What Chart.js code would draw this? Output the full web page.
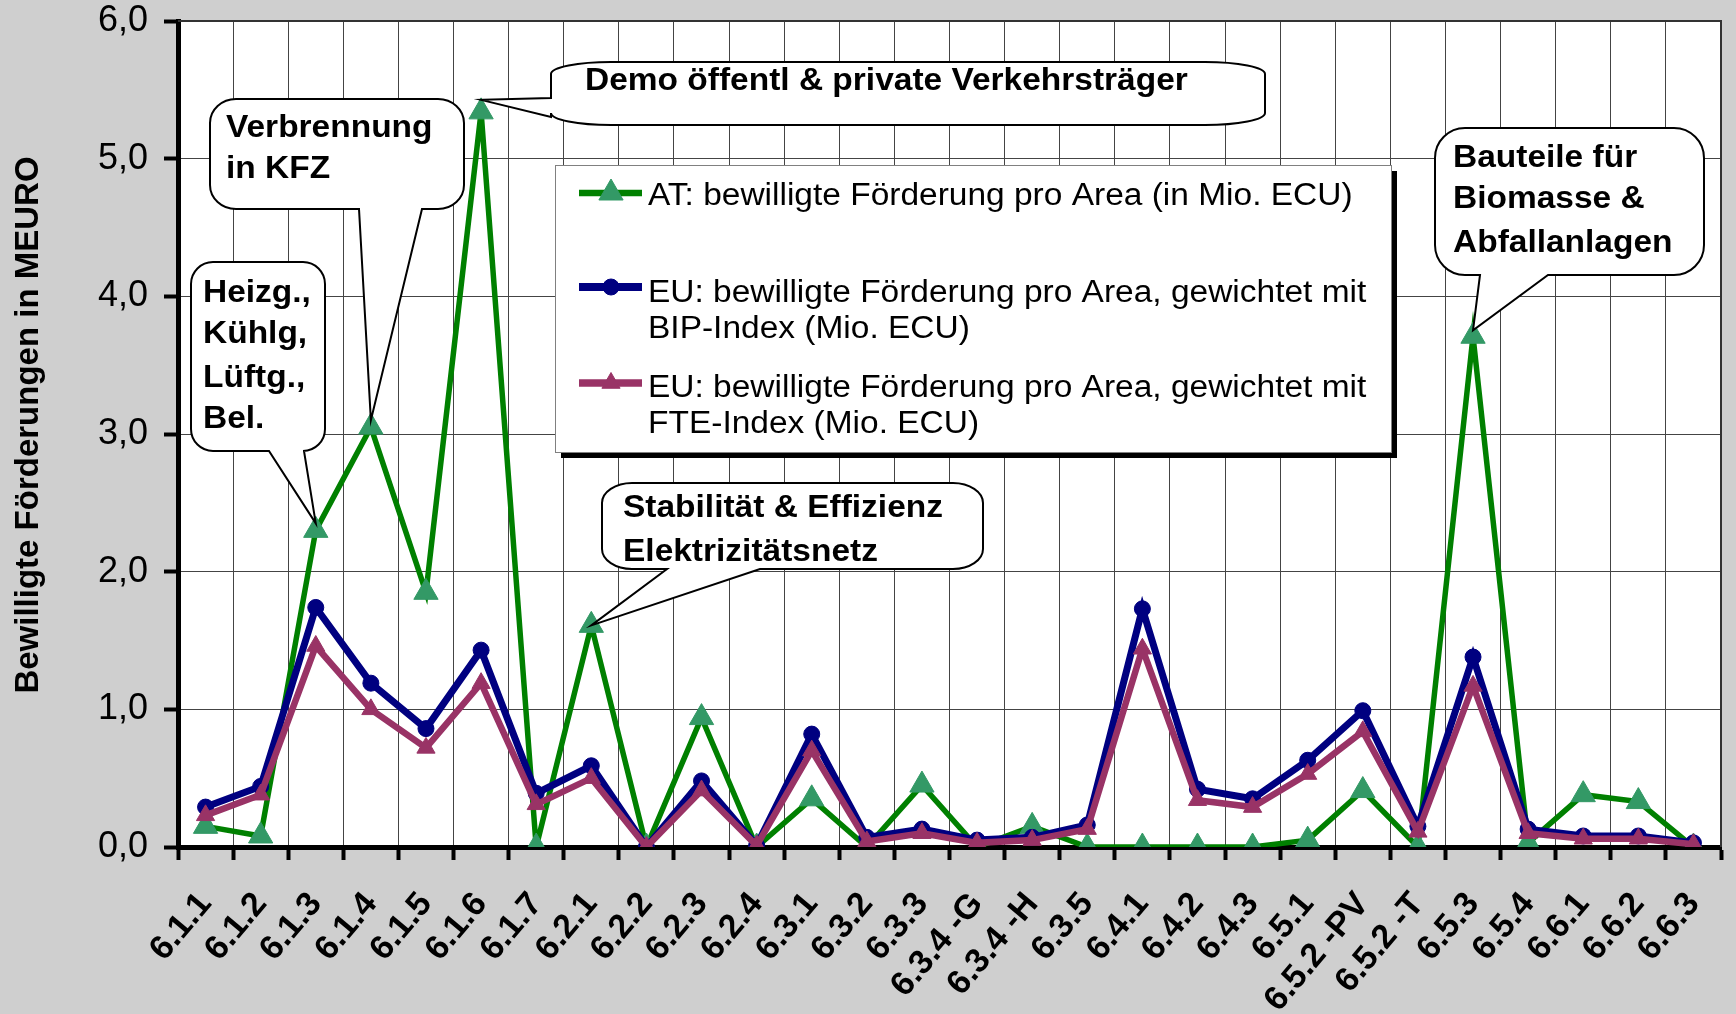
<!DOCTYPE html>
<html>
<head>
<meta charset="utf-8">
<script src="https://cdn.jsdelivr.net/npm/chart.js@4.4.1/dist/chart.umd.min.js"></script>
<style>
    html, body { margin: 0; padding: 0; background: #cfcfcf; }
    #wrap { width: 1736px; height: 1014px; }
</style>
</head>
<body>
<div id="wrap"><canvas id="chart"></canvas></div>
<script>
// Kategorien (Areas)
const categories = ['6.1.1', '6.1.2', '6.1.3', '6.1.4', '6.1.5', '6.1.6', '6.1.7',
    '6.2.1', '6.2.2', '6.2.3', '6.2.4', '6.3.1', '6.3.2', '6.3.3', '6.3.4 -G', '6.3.4 -H',
    '6.3.5', '6.4.1', '6.4.2', '6.4.3', '6.5.1', '6.5.2 -PV', '6.5.2 -T', '6.5.3', '6.5.4',
    '6.6.1', '6.6.2', '6.6.3'];

// Werte in Mio. ECU
const atValues = [0.15, 0.08, 2.30, 3.05, 1.85, 5.34, 0.00, 1.61, 0.00, 0.94, 0.00, 0.35,
    0.00, 0.45, 0.00, 0.15, 0.00, 0.00, 0.00, 0.00, 0.05, 0.41, 0.00, 3.71, 0.03, 0.38, 0.33, 0.00];
const bipValues = [0.29, 0.44, 1.74, 1.19, 0.86, 1.43, 0.39, 0.59, 0.00, 0.48, 0.01, 0.82,
    0.07, 0.13, 0.05, 0.07, 0.16, 1.73, 0.42, 0.35, 0.63, 0.99, 0.15, 1.38, 0.13, 0.08, 0.08, 0.03];
const fteValues = [0.23, 0.38, 1.46, 1.00, 0.72, 1.19, 0.31, 0.50, 0.00, 0.41, 0.01, 0.70,
    0.04, 0.10, 0.03, 0.05, 0.13, 1.44, 0.34, 0.29, 0.53, 0.84, 0.11, 1.17, 0.10, 0.06, 0.06, 0.02];

const yTicks = [0, 1, 2, 3, 4, 5, 6];
const yTitle = 'Bewilligte Förderungen in MEURO';

const legendLines = [
    ['AT: bewilligte Förderung pro Area (in Mio. ECU)'],
    ['EU: bewilligte Förderung pro Area, gewichtet mit', 'BIP-Index (Mio. ECU)'],
    ['EU: bewilligte Förderung pro Area, gewichtet mit', 'FTE-Index (Mio. ECU)']
];

// Sprechblasen: Text + Kategorie, auf die gezeigt wird
const calloutTexts = [
    ['Heizg.,', 'Kühlg,', 'Lüftg.,', 'Bel.'],
    ['Verbrennung', 'in KFZ'],
    ['Demo öffentl & private Verkehrsträger'],
    ['Stabilität & Effizienz', 'Elektrizitätsnetz'],
    ['Bauteile für', 'Biomasse &', 'Abfallanlagen']
];
const calloutTargets = ['6.1.3', '6.1.4', '6.1.6', '6.2.1', '6.5.3'];

// Layout der Sprechblasen (Pixel)
const calloutBoxes = [
    { x: 191, y: 262, w: 134, h: 189, rx: 22, ry: 22, side: 'bottom', base: [269, 304], dy: -7, tx: 203, lines: [302, 343, 387, 428] },
    { x: 210, y: 99, w: 254, h: 110, rx: 26, ry: 24, side: 'bottom', base: [359, 422], dy: -7, tx: 226, lines: [137, 178] },
    { x: 551, y: 62, w: 714, h: 63, rx: 60, ry: 12, side: 'left', base: [98, 117], dy: -12, tx: 585, lines: [90] },
    { x: 602, y: 483, w: 381, h: 86, rx: 30, ry: 20, side: 'bottom', base: [667, 760], dy: 0, tx: 623, lines: [517, 561] },
    { x: 1435, y: 128, w: 269, h: 147, rx: 30, ry: 30, side: 'bottom', base: [1480, 1548], dy: -6, tx: 1453, lines: [167, 208, 252] }
];

const FONT = "'Liberation Sans', Arial, sans-serif";
const STRETCH = 1.08;

function drawText(ctx, str, x, y, font, align) {
    ctx.save();
    ctx.translate(x, y);
    ctx.scale(STRETCH, 1);
    ctx.font = font;
    ctx.textAlign = align || 'left';
    ctx.textBaseline = 'alphabetic';
    ctx.fillStyle = '#000';
    ctx.fillText(str, 0, 0);
    ctx.restore();
}

function bubblePath(ctx, b, tip) {
    const { x, y, w, h, rx, ry } = b;
    const k = 0.5523;
    ctx.beginPath();
    ctx.moveTo(x + rx, y);
    ctx.lineTo(x + w - rx, y);
    ctx.bezierCurveTo(x + w - rx + rx * k, y, x + w, y + ry - ry * k, x + w, y + ry);
    ctx.lineTo(x + w, y + h - ry);
    ctx.bezierCurveTo(x + w, y + h - ry + ry * k, x + w - rx + rx * k, y + h, x + w - rx, y + h);
    if (b.side === 'bottom') {
        ctx.lineTo(b.base[1], y + h);
        ctx.lineTo(tip.x, tip.y);
        ctx.lineTo(b.base[0], y + h);
    }
    ctx.lineTo(x + rx, y + h);
    ctx.bezierCurveTo(x + rx - rx * k, y + h, x, y + h - ry + ry * k, x, y + h - ry);
    if (b.side === 'left') {
        ctx.lineTo(x, b.base[1]);
        ctx.lineTo(tip.x, tip.y);
        ctx.lineTo(x, b.base[0]);
    }
    ctx.lineTo(x, y + ry);
    ctx.bezierCurveTo(x, y + ry - ry * k, x + rx - rx * k, y, x + rx, y);
    ctx.closePath();
}

const decorPlugin = {
    id: 'decor',
    beforeDraw(chart) {
        const { ctx, chartArea: a } = chart;
        ctx.save();
        ctx.fillStyle = '#cfcfcf';
        ctx.fillRect(0, 0, chart.width, chart.height);
        ctx.fillStyle = '#ffffff';
        ctx.fillRect(a.left, a.top, a.right - a.left, a.bottom - a.top);
        ctx.restore();
    },
    beforeDatasetsDraw(chart) {
        const { ctx, chartArea: a } = chart;
        ctx.save();
        ctx.strokeStyle = '#333';
        ctx.lineWidth = 2;
        ctx.beginPath();
        ctx.moveTo(a.left, a.top);
        ctx.lineTo(a.right, a.top);
        ctx.lineTo(a.right, a.bottom);
        ctx.stroke();
        ctx.restore();
    },
    afterDatasetsDraw(chart) {
        const { ctx } = chart;
        const xs = chart.scales.x, ys = chart.scales.y;

        // Achsentitel
        ctx.save();
        ctx.translate(38, 425);
        ctx.rotate(-Math.PI / 2);
        ctx.font = 'bold 33px ' + FONT;
        ctx.textAlign = 'center';
        ctx.fillStyle = '#000';
        ctx.fillText(yTitle, 0, 0);
        ctx.restore();

        // Sprechblasen
        calloutBoxes.forEach((b, i) => {
            const idx = categories.indexOf(calloutTargets[i]);
            const tip = { x: xs.getPixelForValue(idx), y: ys.getPixelForValue(atValues[idx]) + b.dy };
            ctx.save();
            bubblePath(ctx, b, tip);
            ctx.fillStyle = '#fff';
            ctx.fill();
            ctx.strokeStyle = '#000';
            ctx.lineWidth = 2;
            ctx.stroke();
            ctx.restore();
            calloutTexts[i].forEach((t, j) => drawText(ctx, t, b.tx, b.lines[j], 'bold 31px ' + FONT));
        });

        // Legende
        ctx.save();
        ctx.fillStyle = '#000';
        ctx.fillRect(561, 171, 836, 287);
        ctx.fillStyle = '#fff';
        ctx.fillRect(555, 165, 836, 287);
        ctx.strokeStyle = '#808080';
        ctx.lineWidth = 1;
        ctx.strokeRect(555.5, 165.5, 836, 287);
        ctx.restore();

        const rowY = [193, 287, 383];
        const textY = [[205], [302, 338], [397, 433]];
        chart.data.datasets.forEach((ds, i) => {
            ctx.save();
            ctx.strokeStyle = ds.borderColor;
            ctx.lineWidth = ds.borderWidth + 1;
            ctx.beginPath();
            ctx.moveTo(579, rowY[i]);
            ctx.lineTo(642, rowY[i]);
            ctx.stroke();
            ctx.fillStyle = ds.pointBackgroundColor;
            ctx.strokeStyle = ds.pointBorderColor;
            ctx.lineWidth = 1;
            Chart.helpers.drawPoint(ctx, { pointStyle: ds.pointStyle, radius: ds.pointRadius, borderWidth: 1, rotation: 0 }, 611, rowY[i]);
            ctx.restore();
            legendLines[i].forEach((t, j) => drawText(ctx, t, 648, textY[i][j], '31px ' + FONT));
        });
    }
};

const config = {
    type: 'line',
    data: {
        labels: categories,
        datasets: [{
            label: legendLines[0].join(' '),
            data: atValues,
            borderColor: '#008000',
            borderWidth: 5.5,
            pointStyle: 'triangle',
            pointRadius: 14,
            pointBackgroundColor: '#339966',
            pointBorderColor: '#339966',
            pointBorderWidth: 1,
            tension: 0,
            order: 3
        }, {
            label: legendLines[1].join(' '),
            data: bipValues,
            borderColor: '#000080',
            borderWidth: 7,
            pointStyle: 'circle',
            pointRadius: 8,
            pointBackgroundColor: '#000080',
            pointBorderColor: '#000080',
            pointBorderWidth: 1,
            tension: 0,
            order: 2
        }, {
            label: legendLines[2].join(' '),
            data: fteValues,
            borderColor: '#993366',
            borderWidth: 6.5,
            pointStyle: 'triangle',
            pointRadius: 10.5,
            pointBackgroundColor: '#993366',
            pointBorderColor: '#993366',
            pointBorderWidth: 1,
            tension: 0,
            order: 1
        }]
    },
    options: {
        responsive: true,
        maintainAspectRatio: false,
        animation: false,
        events: [],
        layout: { padding: { top: 21, right: 13, left: 0, bottom: 0 } },
        plugins: {
            legend: { display: false },
            tooltip: { enabled: false }
        },
        scales: {
            x: {
                offset: true,
                grid: {
                    offset: true,
                    color: '#444',
                    lineWidth: 1,
                    tickColor: '#000',
                    tickWidth: 4,
                    tickLength: 13
                },
                border: { color: '#000', width: 5 },
                ticks: {
                    autoSkip: false,
                    maxRotation: 50,
                    minRotation: 50,
                    padding: 25,
                    color: '#000',
                    font: { family: FONT, size: 34, weight: 'bold' }
                },
                afterFit(scale) {
                    scale.height = 167;
                    scale.paddingLeft = 0;
                    scale.paddingRight = 0;
                }
            },
            y: {
                min: 0,
                max: 6,
                afterBuildTicks(scale) {
                    scale.ticks = yTicks.map(v => ({ value: v }));
                },
                grid: {
                    color: '#444',
                    lineWidth: 1,
                    tickColor: '#000',
                    tickWidth: 4,
                    tickLength: 14
                },
                border: { color: '#000', width: 5 },
                ticks: {
                    padding: 16,
                    color: '#000',
                    font: { family: FONT, size: 36 },
                    callback: v => v.toFixed(1).replace('.', ',')
                },
                afterFit(scale) {
                    scale.width = 178;
                    scale.paddingTop = 0;
                    scale.paddingBottom = 0;
                }
            }
        }
    },
    plugins: [decorPlugin]
};

new Chart(document.getElementById('chart'), config);
</script>
</body>
</html>
